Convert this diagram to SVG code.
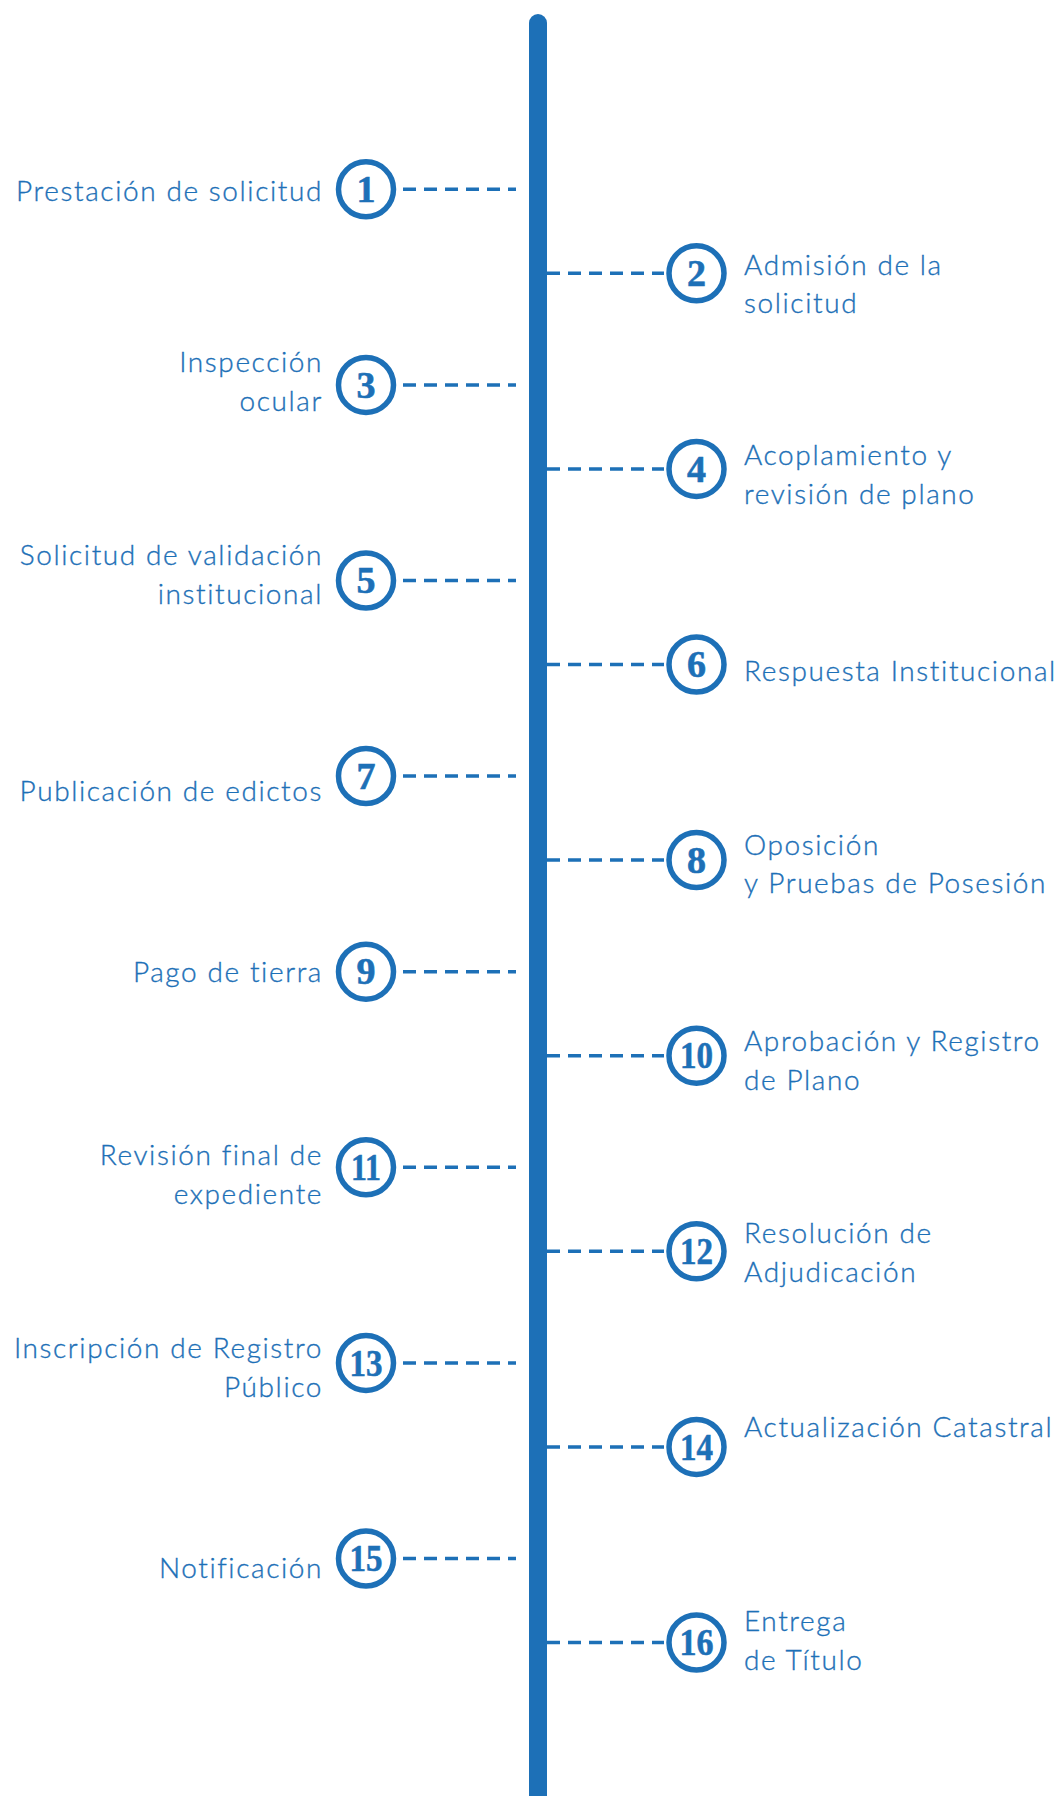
<svg xmlns="http://www.w3.org/2000/svg" width="1057" height="1796" viewBox="0 0 1057 1796">
<style>
.lbl{font-family:Lato,"Open Sans","Liberation Sans",sans-serif;font-size:28px;font-weight:300;fill:#1D70B7;stroke:#1D70B7;stroke-width:0.35;letter-spacing:1.6px}
.l{text-anchor:end}
.num{font-family:"Liberation Serif","DejaVu Serif",serif;font-weight:bold;font-size:38px;fill:#1D70B7;stroke:#1D70B7;stroke-width:0.6;text-anchor:middle}
.ring{fill:#fff;stroke:#1D70B7;stroke-width:5.5}
.dash{stroke:#1D70B7;stroke-width:3.5;stroke-dasharray:13 8;fill:none}
</style>
<rect width="1057" height="1796" fill="#fff"/>
<g id="timeline">
<path d="M529,1796 V23 A9,9 0 0 1 547,23 V1796 Z" fill="#1D70B7"/>
</g>
<g id="connectors">
<line class="dash" x1="403" y1="189.3" x2="516" y2="189.3"/>
<line class="dash" x1="547" y1="273.3" x2="664" y2="273.3"/>
<line class="dash" x1="403" y1="384.9" x2="516" y2="384.9"/>
<line class="dash" x1="547" y1="468.9" x2="664" y2="468.9"/>
<line class="dash" x1="403" y1="580.5" x2="516" y2="580.5"/>
<line class="dash" x1="547" y1="664.5" x2="664" y2="664.5"/>
<line class="dash" x1="403" y1="776.1" x2="516" y2="776.1"/>
<line class="dash" x1="547" y1="860.1" x2="664" y2="860.1"/>
<line class="dash" x1="403" y1="971.7" x2="516" y2="971.7"/>
<line class="dash" x1="547" y1="1055.7" x2="664" y2="1055.7"/>
<line class="dash" x1="403" y1="1167.3" x2="516" y2="1167.3"/>
<line class="dash" x1="547" y1="1251.3" x2="664" y2="1251.3"/>
<line class="dash" x1="403" y1="1362.9" x2="516" y2="1362.9"/>
<line class="dash" x1="547" y1="1446.9" x2="664" y2="1446.9"/>
<line class="dash" x1="403" y1="1558.5" x2="516" y2="1558.5"/>
<line class="dash" x1="547" y1="1642.5" x2="664" y2="1642.5"/>
</g>
<g id="step1">
<circle class="ring" cx="366" cy="189.3" r="27.5"/>
<text class="num" x="366" y="202">1</text>
<text class="lbl l" x="323" y="201">Prestación de solicitud</text>
</g>
<g id="step2">
<circle class="ring" cx="696.5" cy="273.3" r="27.5"/>
<text class="num" x="696.5" y="286">2</text>
<text class="lbl" x="744" y="275">Admisión de la</text>
<text class="lbl" x="744" y="313">solicitud</text>
</g>
<g id="step3">
<circle class="ring" cx="366" cy="384.9" r="27.5"/>
<text class="num" x="366" y="397.6">3</text>
<text class="lbl l" x="323" y="372">Inspección</text>
<text class="lbl l" x="323" y="411">ocular</text>
</g>
<g id="step4">
<circle class="ring" cx="696.5" cy="468.9" r="27.5"/>
<text class="num" x="696.5" y="481.6">4</text>
<text class="lbl" x="744" y="465">Acoplamiento y</text>
<text class="lbl" x="744" y="504">revisión de plano</text>
</g>
<g id="step5">
<circle class="ring" cx="366" cy="580.5" r="27.5"/>
<text class="num" x="366" y="593.2">5</text>
<text class="lbl l" x="323" y="565">Solicitud de validación</text>
<text class="lbl l" x="323" y="604">institucional</text>
</g>
<g id="step6">
<circle class="ring" cx="696.5" cy="664.5" r="27.5"/>
<text class="num" x="696.5" y="677.2">6</text>
<text class="lbl" x="744" y="681">Respuesta Institucional</text>
</g>
<g id="step7">
<circle class="ring" cx="366" cy="776.1" r="27.5"/>
<text class="num" x="366" y="788.8">7</text>
<text class="lbl l" x="323" y="801">Publicación de edictos</text>
</g>
<g id="step8">
<circle class="ring" cx="696.5" cy="860.1" r="27.5"/>
<text class="num" x="696.5" y="872.8">8</text>
<text class="lbl" x="744" y="855">Oposición</text>
<text class="lbl" x="744" y="893">y Pruebas de Posesión</text>
</g>
<g id="step9">
<circle class="ring" cx="366" cy="971.7" r="27.5"/>
<text class="num" x="366" y="984.4">9</text>
<text class="lbl l" x="323" y="982">Pago de tierra</text>
</g>
<g id="step10">
<circle class="ring" cx="696.5" cy="1055.7" r="27.5"/>
<text class="num" x="696.5" y="1068.4" textLength="33" lengthAdjust="spacingAndGlyphs">10</text>
<text class="lbl" x="744" y="1051">Aprobación y Registro</text>
<text class="lbl" x="744" y="1090">de Plano</text>
</g>
<g id="step11">
<circle class="ring" cx="366" cy="1167.3" r="27.5"/>
<text class="num" x="366" y="1180" textLength="30" lengthAdjust="spacingAndGlyphs">11</text>
<text class="lbl l" x="323" y="1165">Revisión final de</text>
<text class="lbl l" x="323" y="1204">expediente</text>
</g>
<g id="step12">
<circle class="ring" cx="696.5" cy="1251.3" r="27.5"/>
<text class="num" x="696.5" y="1264" textLength="33" lengthAdjust="spacingAndGlyphs">12</text>
<text class="lbl" x="744" y="1243">Resolución de</text>
<text class="lbl" x="744" y="1282">Adjudicación</text>
</g>
<g id="step13">
<circle class="ring" cx="366" cy="1362.9" r="27.5"/>
<text class="num" x="366" y="1375.6" textLength="33" lengthAdjust="spacingAndGlyphs">13</text>
<text class="lbl l" x="323" y="1358">Inscripción de Registro</text>
<text class="lbl l" x="323" y="1397">Público</text>
</g>
<g id="step14">
<circle class="ring" cx="696.5" cy="1446.9" r="27.5"/>
<text class="num" x="696.5" y="1459.6" textLength="33" lengthAdjust="spacingAndGlyphs">14</text>
<text class="lbl" x="744" y="1437">Actualización Catastral</text>
</g>
<g id="step15">
<circle class="ring" cx="366" cy="1558.5" r="27.5"/>
<text class="num" x="366" y="1571.2" textLength="33" lengthAdjust="spacingAndGlyphs">15</text>
<text class="lbl l" x="323" y="1578">Notificación</text>
</g>
<g id="step16">
<circle class="ring" cx="696.5" cy="1642.5" r="27.5"/>
<text class="num" x="696.5" y="1655.2" textLength="34" lengthAdjust="spacingAndGlyphs">16</text>
<text class="lbl" x="744" y="1631">Entrega</text>
<text class="lbl" x="744" y="1670">de Título</text>
</g>
</svg>
